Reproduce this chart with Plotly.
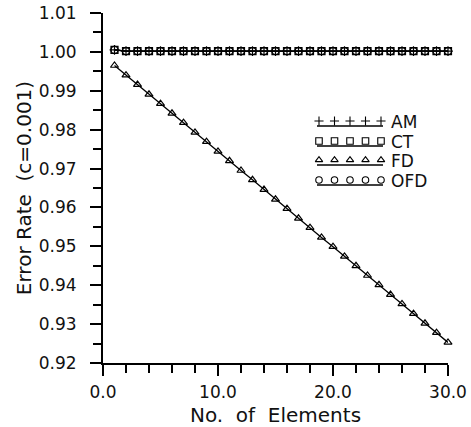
import plotly.graph_objects as go

# ---- data ----
elements = list(range(1, 31))
am = [1.0005] + [1.0002] * 29
ct = [1.0005] + [1.0002] * 29
ofd = [1.0005] + [1.0002] * 29
fd = [0.9965, 0.9940, 0.9916, 0.9891, 0.9867, 0.9842, 0.9818, 0.9793, 0.9769, 0.9744,
      0.9720, 0.9695, 0.9671, 0.9646, 0.9621, 0.9597, 0.9572, 0.9548, 0.9523, 0.9499,
      0.9474, 0.9450, 0.9425, 0.9401, 0.9376, 0.9352, 0.9327, 0.9302, 0.9278, 0.9253]

series_names = ["AM", "CT", "FD", "OFD"]
y_ticks = [0.92, 0.93, 0.94, 0.95, 0.96, 0.97, 0.98, 0.99, 1.00, 1.01]
x_ticks = [0, 10, 20, 30]

FONT = "DejaVu Sans"
INK = "#111111"

W, H = 471, 427
L, R, T, B = 103, 23, 13, 64

fig = go.Figure()

symbols = {"AM": "cross-thin-open", "CT": "square-open",
           "FD": "triangle-up-open", "OFD": "circle-open"}
values = {"AM": am, "CT": ct, "FD": fd, "OFD": ofd}

for name in series_names:
    fig.add_trace(go.Scatter(
        x=elements, y=values[name], mode="lines+markers", name=name,
        line=dict(color="black", width=1.3),
        marker=dict(symbol=symbols[name], size=7, color="black",
                    line=dict(color="black", width=1.2)),
        cliponaxis=False, showlegend=False,
    ))

# legend drawn in a pixel-based overlay frame (layout only, not data)
legend_left, legend_right, legend_n = 319, 381, 5
legend_xs = [legend_left + i * (legend_right - legend_left) / (legend_n - 1) for i in range(legend_n)]
row_y = [122, 142, 161, 181]
annotations = []
for name, yy in zip(series_names, row_y):
    fig.add_trace(go.Scatter(
        x=legend_xs, y=[yy - 1] * legend_n, xaxis="x2", yaxis="y2", mode="markers",
        marker=dict(symbol=symbols[name], size=6.5, color="black",
                    line=dict(color="black", width=1.1)),
        showlegend=False, hoverinfo="skip", cliponaxis=False,
    ))
    fig.add_trace(go.Scatter(
        x=[legend_left - 2, legend_right + 2], y=[yy + 4, yy + 4], xaxis="x2", yaxis="y2",
        mode="lines", line=dict(color="black", width=1.3),
        showlegend=False, hoverinfo="skip", cliponaxis=False,
    ))
    annotations.append(dict(
        x=389, y=yy, xref="x2", yref="y2", text=name,
        showarrow=False, xanchor="left", yanchor="middle",
        font=dict(family=FONT, size=17, color=INK)))

axis_common = dict(
    showgrid=False, zeroline=False, showline=True, linecolor="black", linewidth=2,
    ticks="outside", ticklen=11, tickwidth=1.5, tickcolor="black",
    tickfont=dict(family=FONT, size=17, color=INK), automargin=False,
)

fig.update_layout(
    width=W, height=H,
    margin=dict(l=L, r=R, t=T, b=B),
    paper_bgcolor="white", plot_bgcolor="white",
    font=dict(family=FONT, size=17, color=INK),
    annotations=annotations,
    xaxis=dict(
        range=[0, 30], tickvals=x_ticks, tickformat=".1f",
        minor=dict(dtick=2, ticks="outside", ticklen=8, tickwidth=1.5, tickcolor="black"),
        title=dict(text="No.  of  Elements", font=dict(family=FONT, size=20, color=INK), standoff=8),
        ticklabelstandoff=2,
        **axis_common,
    ),
    yaxis=dict(
        range=[0.92, 1.01], tickvals=y_ticks, tickformat=".2f",
        minor=dict(dtick=0.005, ticks="outside", ticklen=8, tickwidth=1.5, tickcolor="black"),
        title=dict(text="Error Rate  (c=0.001)", font=dict(family=FONT, size=20, color=INK), standoff=2),
        ticklabelstandoff=10,
        **axis_common,
    ),
    xaxis2=dict(range=[L, W - R], overlaying="x", anchor="y2", visible=False,
                showgrid=False, zeroline=False, fixedrange=True),
    yaxis2=dict(range=[H - B, T], overlaying="y", anchor="x2", visible=False,
                showgrid=False, zeroline=False, fixedrange=True),
)

fig.write_html("out.html")
